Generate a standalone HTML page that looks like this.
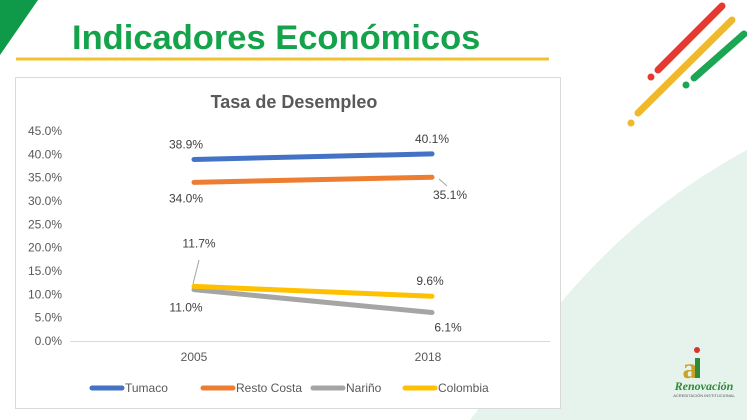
<!DOCTYPE html>
<html><head><meta charset="utf-8"><style>
body{margin:0;width:747px;height:420px;overflow:hidden;background:#fff;font-family:"Liberation Sans",sans-serif;position:relative}
svg{position:absolute;left:0;top:0}
</style></head><body>
<svg width="747" height="420">
<path d="M470,420 C540,330 600,230 747,150 L747,420 Z" fill="#e6f2ec"/>
<polygon points="0,0 38,0 0,55" fill="#0e9a48"/>
<text x="72" y="49" font-size="34.5" font-weight="bold" fill="#14a34b">Indicadores Económicos</text>
<line x1="16" y1="59" x2="549" y2="59" stroke="#f2c12e" stroke-width="3"/>
<g stroke-linecap="round" stroke-width="7">
<line x1="722" y1="6" x2="658" y2="70" stroke="#e53a2f"/><circle cx="651" cy="77" r="3.5" fill="#e53a2f" stroke="none"/>
<line x1="732" y1="20" x2="638" y2="113" stroke="#f0b92a"/><circle cx="631" cy="123" r="3.5" fill="#f0b92a" stroke="none"/>
<line x1="744" y1="34" x2="694" y2="78" stroke="#1aa653"/><circle cx="686" cy="85" r="3.5" fill="#1aa653" stroke="none"/>
</g>
<rect x="15.5" y="77.5" width="545" height="331" fill="#fff" stroke="#d9d9d9"/>
<text x="294" y="108" font-size="18" font-weight="bold" fill="#595959" text-anchor="middle">Tasa de Desempleo</text>
<g id="chart"></g>
<g>
<text x="690" y="378" font-size="30" font-weight="bold" fill="#c9a227" text-anchor="middle" font-family="Liberation Serif,serif">a</text>
<rect x="695" y="358" width="5" height="20" fill="#2e8b3a"/><circle cx="697" cy="350" r="3" fill="#d9342b"/>
<text x="704" y="390" font-size="12" font-style="italic" font-weight="bold" fill="#2e8b3a" text-anchor="middle" font-family="Liberation Serif,serif">Renovación</text>
<text x="704" y="397" font-size="4" fill="#555" text-anchor="middle">ACREDITACIÓN INSTITUCIONAL</text>
</g>
</svg>
<script>
const categories=["2005","2018"];
const seriesNames=["Tumaco","Resto Costa","Nariño","Colombia"];
const tumaco=[38.9,40.1];
const restoCosta=[34.0,35.1];
const narino=[11.0,6.1];
const colombia=[11.7,9.6];
const yTicks=[0,5,10,15,20,25,30,35,40,45];
const colors=["#4472c4","#ed7d31","#a5a5a5","#ffc000"];
const series=[tumaco,restoCosta,narino,colombia];
const NS="http://www.w3.org/2000/svg";
const g=document.getElementById('chart');
function y(v){return 341-v*(210/45);}
function x(i){return 194+i*234;}
function el(t,a,txt){const e=document.createElementNS(NS,t);for(const k in a)e.setAttribute(k,a[k]);if(txt!==undefined)e.textContent=txt;g.appendChild(e);return e;}
yTicks.forEach(t=>{const e=el('text',{x:62,y:y(t)+4,'font-size':12,fill:'#595959','text-anchor':'end'},t.toFixed(1)+'%');

});
const ax=el('line',{x1:70,x2:550,y1:341.5,y2:341.5,stroke:'#d9d9d9'});


categories.forEach((c,i)=>{const e=el('text',{x:x(i),y:361,'font-size':12,fill:'#595959','text-anchor':'middle'},c);

});
// label offsets [dx,dy] relative to point, per series per category
const lblOff=[[[-8,-15],[4,-15]],[[-8,16],[22,18]],[[-8,18],[20,15]],[[5,-43],[2,-15]]];
series.forEach((s,k)=>{
const l=el('line',{x1:x(0),y1:y(s[0]),x2:x(1)+4,y2:y(s[1]),stroke:colors[k],'stroke-width':5,'stroke-linecap':'round'});


s.forEach((v,i)=>{const o=lblOff[k][i];
const t=el('text',{x:x(i)+o[0],y:y(v)+o[1]+4,'font-size':12,fill:'#404040','text-anchor':'middle'},v.toFixed(1)+'%');

});
});
el('line',{x1:439,y1:179,x2:447,y2:186,stroke:'#a6a6a6'});
el('line',{x1:199,y1:260,x2:193,y2:284,stroke:'#a6a6a6'});
const lx=[92,203,313,405];
seriesNames.forEach((n,k)=>{
const a=el('line',{x1:lx[k],x2:lx[k]+30,y1:388,y2:388,stroke:colors[k],'stroke-width':5,'stroke-linecap':'round'});


const t=el('text',{x:lx[k]+33,y:392,'font-size':12,fill:'#595959'},n);

});
</script>
</body></html>
